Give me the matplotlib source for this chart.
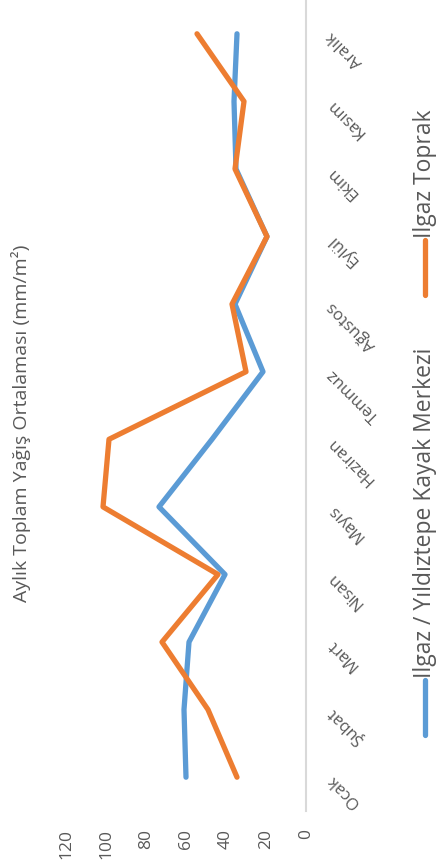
import matplotlib
matplotlib.use("Agg")
import matplotlib.pyplot as plt
from matplotlib.lines import Line2D
import numpy as np

plt.rcParams["font.family"] = ["Open Sans", "DejaVu Sans"]

months = ["Ocak", "Şubat", "Mart", "Nisan", "Mayıs", "Haziran",
          "Temmuz", "Ağustos", "Eylül", "Ekim", "Kasım", "Aralık"]
# mm/m2 monthly totals
yildiztepe = [60, 61, 58.5, 40.5, 73.5, 47, 21.5, 35.5, 19.5, 35, 36, 34.5]
toprak = [34.5, 49, 72, 44, 101.5, 98.5, 30, 37, 19.5, 35.5, 31, 54.5]
value_ticks = [0, 20, 40, 60, 80, 100, 120]

series_names = ["Ilgaz / Yıldıztepe Kayak Merkezi", "Ilgaz Toprak"]
colors = ["#5B9BD5", "#ED7D31"]
text_color = "#595959"

W, H = 447, 867
fig = plt.figure(figsize=(W / 100, H / 100), dpi=100)
# chart is laid out sideways: values run right-to-left, months bottom-to-top
ax = fig.add_axes([66 / W, 1 - 811 / H, 240 / W, 811 / H])

pos = np.arange(len(months))
for vals, c in zip([yildiztepe, toprak], colors):
    ax.plot(vals, pos, color=c, lw=3.8, solid_capstyle="round", zorder=3)

ax.set_xlim(120, 0)
ax.set_ylim(-0.5, len(months) - 0.5)

for s in ["left", "top", "bottom"]:
    ax.spines[s].set_visible(False)
ax.spines["right"].set_color("#D9D9D9")
ax.spines["right"].set_linewidth(1.5)

ax.set_xticks(value_ticks)
ax.set_xticklabels([str(v) for v in value_ticks])
ax.tick_params(axis="x", length=0, pad=13, labelrotation=90,
               labelsize=12.5, labelcolor=text_color)

ax.yaxis.tick_right()
ax.set_yticks(pos)
ax.set_yticklabels(months)
ax.tick_params(axis="y", length=0, pad=17, labelsize=12, labelcolor=text_color)
for lab in ax.get_yticklabels():
    lab.set_rotation(135)
    lab.set_rotation_mode("anchor")
    lab.set_ha("right")
    lab.set_va("center")

fig.text(21 / W, 1 - 423 / H, "Aylık Toplam Yağış Ortalaması (mm/m²)",
         rotation=90, ha="center", va="center", fontsize=14, color=text_color)

# legend drawn vertically along the right edge
legend_rows = [(680, 735), (240, 295)]
for name, c, (y0, y1) in zip(series_names, colors, legend_rows):
    fig.add_artist(Line2D([425 / W, 425 / W], [1 - y0 / H, 1 - y1 / H],
                          color=c, lw=3.8, solid_capstyle="round",
                          transform=fig.transFigure))
    fig.text(425 / W, 1 - (y0 - 2) / H, name, rotation=90, ha="center",
             va="bottom", fontsize=16.5, color=text_color)

fig.savefig("out.png", dpi=100)
